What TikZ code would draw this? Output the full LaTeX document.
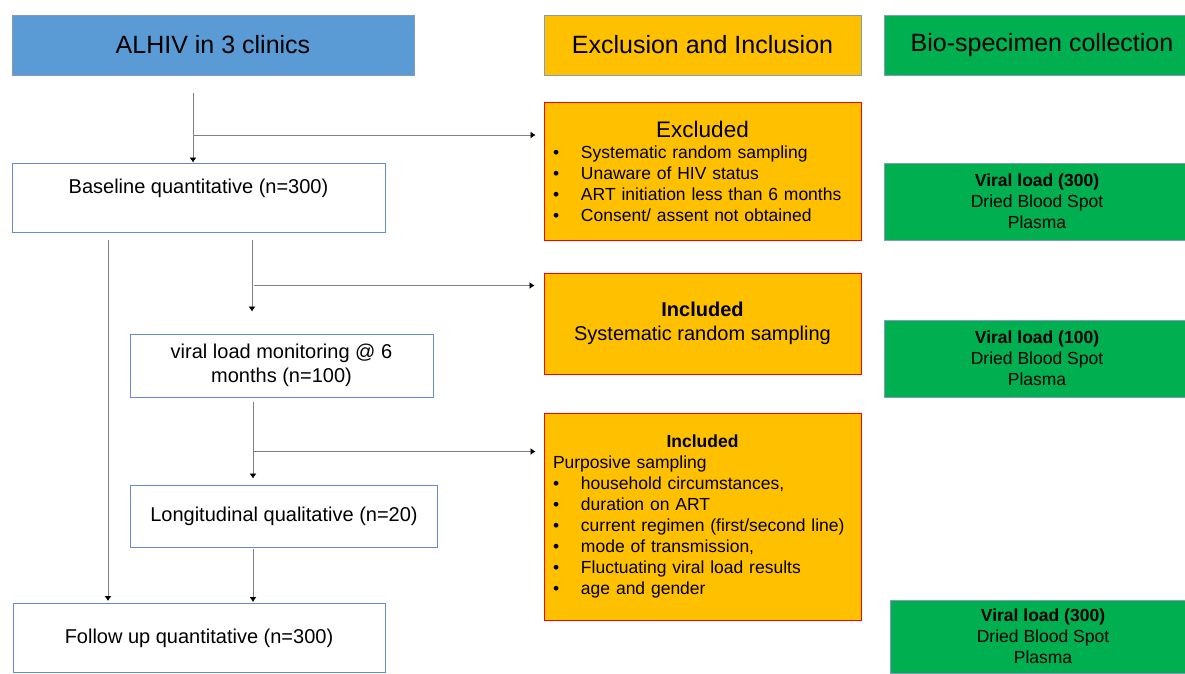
\documentclass[tikz,border=0pt]{standalone}
\usepackage{fontspec}
\setmainfont{Liberation Sans}
\usetikzlibrary{shapes,arrows.meta,positioning,calc}
\definecolor{hdrblue}{RGB}{91,155,213}
\definecolor{hdrorange}{RGB}{255,192,0}
\definecolor{hdrgreen}{RGB}{0,176,80}
\definecolor{hdrline}{RGB}{130,155,185}
\definecolor{stageline}{RGB}{100,140,210}
\definecolor{flowgray}{RGB}{128,128,128}
\newcommand{\itm}{\makebox[28pt][l]{\textbullet}}
\tikzset{
  hdr/.style={draw=hdrline, line width=1pt, minimum height=60pt, inner sep=0pt, font=\fontsize{25}{30}\selectfont},
  stage/.style={draw=stageline, line width=1pt, fill=white, inner sep=0pt, align=center, font=\fontsize{20}{24}\selectfont},
  crit/.style={draw=red, line width=1pt, fill=hdrorange, minimum width=317pt, inner xsep=9pt, inner ysep=0pt, font=\fontsize{17.5}{21}\selectfont},
  sample/.style={draw=hdrline, line width=1pt, fill=hdrgreen, inner sep=0pt, align=center, font=\fontsize{17.5}{21}\selectfont},
  flow/.style={draw=flowgray, line width=0.8pt, -{Latex[black,length=5pt,width=7pt]}},
}
\begin{document}
\begin{tikzpicture}[x=1pt,y=-1pt]
\useasboundingbox (0,0) rectangle (1185,673);
% column headers
\node[hdr, fill=hdrblue, minimum width=402pt] (alhiv) at (213,45) {ALHIV in 3 clinics};
\node[hdr, fill=hdrorange, minimum width=317pt] (exin) at (702.5,45) {Exclusion and Inclusion};
\node[hdr, fill=hdrgreen, minimum width=316pt] (bio) at (1042,45) {Bio-specimen collection};

% study stages
\node[stage, minimum width=373pt, minimum height=69pt, text height=15pt, text depth=24pt] (base) at (198.5,197.5) {Baseline quantitative (n=300)};
\node[stage, minimum width=303pt, minimum height=63pt] (vlm) at (281.5,365.5) {viral load monitoring @ 6\\months (n=100)};
\node[stage, minimum width=307pt, minimum height=62pt] (long) at (284,516) {Longitudinal qualitative (n=20)};
\node[stage, minimum width=372pt, minimum height=69pt] (follow) at (199,638) {Follow up quantitative (n=300)};

% criteria
\node[crit, text width=299pt, align=left, minimum height=138pt] (excl) at (702.5,171)
  {\null\hfill{\fontsize{22.5}{21}\selectfont Excluded}\hfill\null\\
   \itm Systematic random sampling\\
   \itm Unaware of HIV status\\
   \itm ART initiation less than 6 months\\
   \itm Consent/ assent not obtained};
\node[crit, align=center, minimum height=101pt, font=\fontsize{20}{24}\selectfont] (inc1) at (702.5,323.5)
  {\textbf{Included}\\Systematic random sampling};
\node[crit, text width=299pt, align=left, minimum height=207pt] (inc2) at (702.5,516.5)
  {\null\hfill\textbf{Included}\hfill\null\\
   Purposive sampling\\
   \itm household circumstances,\\
   \itm duration on ART\\
   \itm current regimen (first/second line)\\
   \itm mode of transmission,\\
   \itm Fluctuating viral load results\\
   \itm age and gender};

% samples
\foreach \name/\px/\py/\w/\h/\n in {vla/1037/201.5/306/77/300, vlb/1037/358.5/306/77/100, vlc/1043/636.5/306/73/300}
  \node[sample, minimum width=\w pt, minimum height=\h pt] (\name) at (\px,\py)
    {\textbf{Viral load (\n)}\\Dried Blood Spot\\Plasma};

% flow
\coordinate (t0) at (193,93);
\coordinate (t1) at (193,135);
\coordinate (l0) at (108,240);
\coordinate (m0) at (252,240);
\coordinate (m1) at (253.5,285.5);
\coordinate (m2) at (253,402);
\coordinate (m3) at (253.5,451.5);
\coordinate (m4) at (253,549);
\draw[flow] (t0) -- (t0 |- base.north);
\draw[flow, shorten >=8pt] (t1) -- (t1 -| excl.west);
\draw[flow, shorten >=2pt] (l0) -- (l0 |- follow.north);
\draw[flow, shorten >=22pt] (m0) -- (m0 |- vlm.north);
\draw[flow, shorten >=9pt] (m1) -- (m1 -| inc1.west);
\draw[flow, shorten >=6pt] (m2) -- (m2 |- long.north);
\draw[flow, shorten >=8pt] (m3) -- (m3 -| inc2.west);
\draw[flow, shorten >=1pt] (m4) -- (m4 |- follow.north);
\end{tikzpicture}
\end{document}
